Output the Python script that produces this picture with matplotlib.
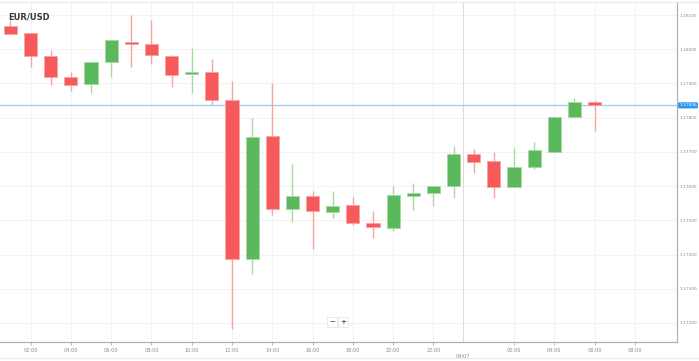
import matplotlib.pyplot as plt
from matplotlib.patches import Rectangle

# hourly EUR/USD candles, 01:00 (04/06) -> 06:00 (04/07)
hours = list(range(1, 31))
opens = [1.18068, 1.18047, 1.17979, 1.17918, 1.17897, 1.17962, 1.18022, 1.18014, 1.17981, 1.17927,
         1.17934, 1.17853, 1.17386, 1.17746, 1.17533, 1.17572, 1.17523, 1.17544, 1.17491, 1.17478,
         1.17571, 1.17581, 1.17599, 1.17695, 1.17673, 1.17598, 1.17656, 1.17701, 1.17803, 1.17845]
highs = [1.18085, 1.18047, 1.17998, 1.17934, 1.17963, 1.18026, 1.18100, 1.18085, 1.17983, 1.18003,
         1.17971, 1.17907, 1.17798, 1.17900, 1.17665, 1.17586, 1.17586, 1.17567, 1.17528, 1.17600,
         1.17608, 1.17600, 1.17717, 1.17708, 1.17701, 1.17710, 1.17729, 1.17803, 1.17858, 1.17852]
lows = [1.18042, 1.17949, 1.17895, 1.17879, 1.17871, 1.17918, 1.17949, 1.17957, 1.17889, 1.17873,
        1.17836, 1.17182, 1.17343, 1.17516, 1.17496, 1.17415, 1.17508, 1.17485, 1.17447, 1.17470,
        1.17530, 1.17542, 1.17564, 1.17639, 1.17564, 1.17598, 1.17649, 1.17701, 1.17800, 1.17761]
closes = [1.18045, 1.17980, 1.17918, 1.17896, 1.17963, 1.18026, 1.18015, 1.17982, 1.17925, 1.17934,
          1.17851, 1.17387, 1.17744, 1.17533, 1.17572, 1.17526, 1.17543, 1.17491, 1.17480, 1.17573,
          1.17581, 1.17599, 1.17693, 1.17671, 1.17598, 1.17657, 1.17705, 1.17803, 1.17845, 1.17836]

xtick_pos = [2, 4, 6, 8, 10, 12, 14, 16, 18, 20, 22, 26, 28, 30, 32]
xtick_labels = ["02:00", "04:00", "06:00", "08:00", "10:00", "12:00", "14:00", "16:00",
                "18:00", "20:00", "22:00", "02:00", "04:00", "06:00", "08:00"]
ytick_vals = [1.172, 1.173, 1.174, 1.175, 1.176, 1.177, 1.178, 1.179, 1.180, 1.181]
crosshair_x = 23.47
crosshair_label = "04/07"

up_col, up_wick = "#5cb85c", "#a9d9a2"
dn_col, dn_wick = "#f75a5a", "#f7a3a3"
grid_col = "#f3f3f3"
text_col = "#8a8a8a"

fig = plt.figure(figsize=(6.99, 3.61), dpi=100)
ax = fig.add_axes([0, 19 / 361, 677 / 699, 339 / 361])

# grid
for p in ytick_vals:
    ax.axhline(p, color=grid_col, lw=0.8, zorder=0)
for h in xtick_pos:
    ax.axvline(h, color=grid_col, lw=0.8, zorder=0)

w = 0.65
for h, o, hi, lo, c in zip(hours, opens, highs, lows, closes):
    up = c >= o
    ax.vlines(h, lo, hi, color=up_wick if up else dn_wick, lw=1.0, zorder=2)
    ax.add_patch(Rectangle((h - w / 2, min(o, c)), w, max(abs(c - o), 0.00002),
                           facecolor=up_col if up else dn_col,
                           edgecolor=up_wick if up else dn_wick, lw=0.6, zorder=3))

# crosshair
ax.axvline(crosshair_x, color="#dcdcdc", lw=0.8, zorder=1)

# last price line
last = closes[-1]
ax.axhline(last, color="#9ccbf0", lw=0.9, zorder=1)
ax.text(34.2, last, f"{last:.5f}", fontsize=3.1, color="white", va="center", ha="left",
        bbox=dict(boxstyle="round,pad=0.25", fc="#2b97f0", ec="none"), clip_on=False, zorder=5)

ax.set_xlim(0.48, 34.09)
ax.set_ylim(1.172 - (342 - 323) / 34222, 1.181 + (15 - 3) / 34222)

ax.set_xticks(xtick_pos)
ax.set_xticklabels(xtick_labels, fontsize=3.6, color=text_col)
ax.yaxis.tick_right()
ax.set_yticks(ytick_vals)
ax.set_yticklabels([f"{v:.5f}" for v in ytick_vals], fontsize=3.1, color=text_col)
ax.tick_params(axis="x", length=2, width=0.6, color="#aaaaaa", pad=2)
ax.tick_params(axis="y", length=0, pad=2)

for s in ["left", "top"]:
    ax.spines[s].set_visible(False)
for s in ["bottom", "right"]:
    ax.spines[s].set_color("#b0b0b0")
    ax.spines[s].set_linewidth(0.9)

ax.text(crosshair_x, -0.035, crosshair_label, transform=ax.get_xaxis_transform(),
        fontsize=3.6, color=text_col, ha="center", va="top")

ax.text(8 / 677, 1 - 10 / 339, "EUR/USD", transform=ax.transAxes, fontsize=6,
        fontweight="bold", color="#3a3a3a", va="top", ha="left")

# zoom buttons
for bx, sym in [(332, "\u2212"), (343, "+")]:
    fig.text(bx / 699, 1 - 322 / 361, sym, fontsize=5, color="#555555", ha="center", va="center",
             fontweight="bold",
             bbox=dict(boxstyle="square,pad=0.3", fc="white", ec="#e6e6e6", lw=0.6))

# top and bottom borders
fig.add_artist(plt.Line2D([0, 1], [1 - 2 / 361, 1 - 2 / 361], color="#e8e8e8", lw=0.8))
fig.add_artist(plt.Line2D([0, 1], [1 - 358 / 361, 1 - 358 / 361], color="#e8e8e8", lw=0.8))

fig.savefig("out.png", dpi=100)
